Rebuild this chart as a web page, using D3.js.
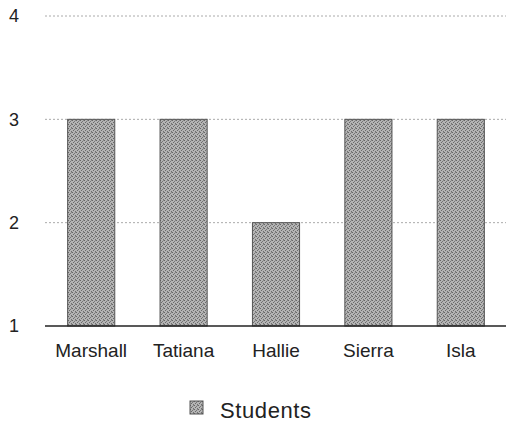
<!DOCTYPE html>
<html><head><meta charset="utf-8">
<script src="https://cdn.jsdelivr.net/npm/d3@7"></script>
<style>body{margin:0;background:#fff;}svg{display:block;font-family:"Liberation Sans",Arial,sans-serif;}</style>
</head><body>
<svg id="c" width="506" height="422"></svg>
<script>
const categories = ["Marshall", "Tatiana", "Hallie", "Sierra", "Isla"];
const values = [3, 3, 2, 3, 3];
const yTicks = [1, 2, 3, 4];
const seriesName = "Students";

const svg = d3.select("#c");
const defs = svg.append("defs");
const pat = defs.append("pattern").attr("id","tex").attr("patternUnits","userSpaceOnUse")
  .attr("width",4).attr("height",4);
pat.append("rect").attr("width",4).attr("height",4).attr("fill","#b4b4b4");
pat.append("rect").attr("x",0).attr("y",0).attr("width",1).attr("height",1).attr("fill","#666");
pat.append("rect").attr("x",2).attr("y",1).attr("width",1).attr("height",1).attr("fill","#777");
pat.append("rect").attr("x",1).attr("y",2).attr("width",1).attr("height",1).attr("fill","#6a6a6a");
pat.append("rect").attr("x",3).attr("y",3).attr("width",1).attr("height",1).attr("fill","#707070");
pat.append("rect").attr("x",3).attr("y",0).attr("width",1).attr("height",1).attr("fill","#888");

const x = d3.scaleBand().domain(categories).range([45, 507]).paddingInner(0.49).paddingOuter(0.245);
const y = d3.scaleLinear().domain([1, 4]).range([326, 16]);

// gridlines
svg.append("g").selectAll("line").data(yTicks.filter(d => d > 1)).join("line")
  .attr("x1", 45).attr("x2", 506).attr("y1", d => y(d)).attr("y2", d => y(d))
  .attr("stroke", "#aaa").attr("stroke-width", 1).attr("stroke-dasharray", "2,2");

// y labels
svg.append("g").selectAll("text").data(yTicks).join("text")
  .attr("x", 14).attr("y", d => y(d)).attr("dy", "0.36em").attr("text-anchor", "middle")
  .attr("font-size", 18).attr("fill", "#222").text(d => d);

// bars
svg.append("g").selectAll("rect").data(values).join("rect")
  .attr("x", (d, i) => x(categories[i])).attr("width", x.bandwidth())
  .attr("y", d => y(d)).attr("height", d => y(1) - y(d))
  .attr("fill", "url(#tex)").attr("stroke", "#555").attr("stroke-width", 1);

// baseline
svg.append("line").attr("x1", 45).attr("x2", 506).attr("y1", y(1)).attr("y2", y(1))
  .attr("stroke", "#222").attr("stroke-width", 1.5);

// x labels
svg.append("g").selectAll("text").data(categories).join("text")
  .attr("x", d => x(d) + x.bandwidth() / 2).attr("y", 357).attr("text-anchor", "middle")
  .attr("font-size", 19).attr("fill", "#222").text(d => d);

// legend
const lg = svg.append("g").attr("transform", "translate(190,401)");
lg.append("rect").attr("width", 13).attr("height", 13).attr("fill", "url(#tex)").attr("stroke", "#555");
lg.append("text").attr("x", 30).attr("y", 17).attr("font-size", 22).attr("letter-spacing", 0.6)
  .attr("fill", "#222").text(seriesName);
</script>
</body></html>
